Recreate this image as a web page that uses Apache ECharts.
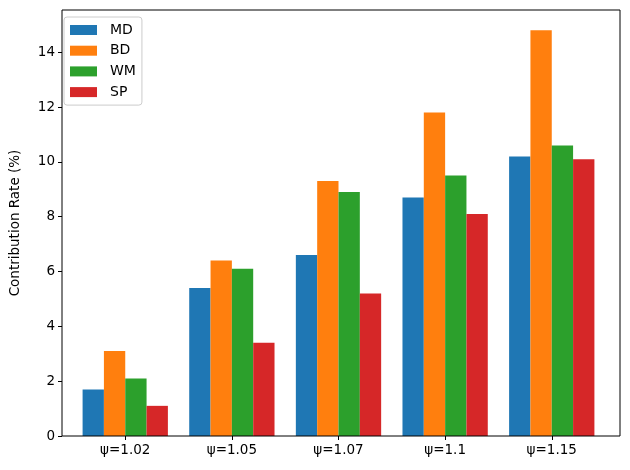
<!DOCTYPE html>
<html><head><meta charset="utf-8">
<script src="https://cdn.jsdelivr.net/npm/echarts@6/dist/echarts.min.js"></script>
<style>html,body{margin:0;padding:0;background:#fff}#c{width:630px;height:470px}</style>
</head><body><div id="c"></div>
<script>
const categories = ['ψ=1.02', 'ψ=1.05', 'ψ=1.07', 'ψ=1.1', 'ψ=1.15'];
const seriesNames = ['MD', 'BD', 'WM', 'SP'];
const MD = [1.7, 5.4, 6.6, 8.7, 10.2];
const BD = [3.1, 6.4, 9.3, 11.8, 14.8];
const WM = [2.1, 6.1, 8.9, 9.5, 10.6];
const SP = [1.1, 3.4, 5.2, 8.1, 10.1];
const colors = ['#1f77b4', '#ff7f0e', '#2ca02c', '#d62728'];
const yTicks = [0, 2, 4, 6, 8, 10, 12, 14];

const values = [MD, BD, WM, SP];
const yMax = Math.max(...BD, ...MD, ...WM, ...SP) * 1.05;

// frame grid spans matplotlib axes; bar grid is the category band area
const fL = 57, fR = 620, fT = 10, fB = 436;
const nCat = categories.length;
const unit = (fR - fL) / (nCat - 1 + 0.8 + 0.48); // data units incl. margins
const bandLeft = fL + (0.64 - 0.5) * unit;
const bandRight = fR - (0.64 - 0.5) * unit;

const chart = echarts.init(document.getElementById('c'));
chart.setOption({
  animation: false,
  textStyle: { fontFamily: 'DejaVu Sans' },
  color: colors,
  grid: [
    { left: bandLeft, right: 630 - bandRight, top: fT, bottom: 470 - fB, containLabel: false },
    { left: fL, right: 630 - fR, top: fT, bottom: 470 - fB, show: true, borderColor: '#000', borderWidth: 1, backgroundColor: 'transparent', z: 5 }
  ],
  legend: {
    orient: 'vertical', left: 64, top: 17,
    data: seriesNames,
    itemWidth: 27, itemHeight: 10, itemGap: 6.7,
    padding: [6, 6, 6, 6],
    borderColor: '#cccccc', borderWidth: 1, borderRadius: 3,
    backgroundColor: 'rgba(255,255,255,0.8)',
    icon: 'rect',
    textStyle: { fontSize: 14, color: '#000', fontFamily: 'DejaVu Sans', padding: [0, 0, 0, 8] }
  },
  xAxis: [
    { type: 'category', gridIndex: 0, data: categories,
      axisLine: { show: false },
      axisTick: { show: true, alignWithLabel: true, length: 4, lineStyle: { color: '#000' } },
      axisLabel: { color: '#000', fontSize: 13.5, margin: 7 } },
    { type: 'value', gridIndex: 1, min: 0, max: 1, show: false }
  ],
  yAxis: [
    { type: 'value', gridIndex: 0, min: 0, max: yMax, show: false },
    { type: 'value', gridIndex: 1, min: 0, max: yMax, interval: 2,
      name: 'Contribution Rate (%)', nameLocation: 'middle', nameGap: 40,
      nameTextStyle: { color: '#000', fontSize: 13.5 },
      axisLine: { show: false },
      axisTick: { show: true, length: 4, lineStyle: { color: '#000' } },
      splitLine: { show: false },
      axisLabel: { color: '#000', fontSize: 13.5, margin: 7, showMaxLabel: false,
        formatter: v => yTicks.includes(v) ? String(v) : '' } }
  ],
  series: seriesNames.map((n, i) => ({
    name: n, type: 'bar', xAxisIndex: 0, yAxisIndex: 0,
    data: values[i], barGap: '0%', barCategoryGap: '20%',
    itemStyle: { color: colors[i] }
  }))
});
</script></body></html>
